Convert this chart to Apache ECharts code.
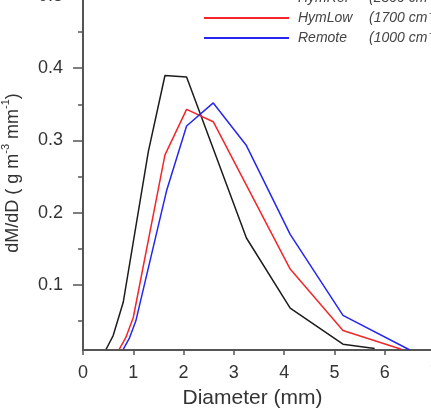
<!DOCTYPE html>
<html lang="en">
<head>
    <meta charset="UTF-8">
    <title>dM/dD size distribution</title>
    <script src="https://cdn.jsdelivr.net/npm/echarts@6.0.0/dist/echarts.min.js"></script>
    <style>
        html, body { margin: 0; padding: 0; background: #fff; }
    </style>
</head>
<body>
<div id="chart1" style="width: 431px;height:411px;"></div>

<script>
    // values (diameter in mm, dM/dD in g m-3 mm-1)
    var refD = [0.46, 0.6, 0.8, 1.3, 1.63, 2.06, 3.25, 4.12, 5.17, 5.8];
    var refV = [0.011, 0.03, 0.076, 0.285, 0.39, 0.388, 0.165, 0.068, 0.018, 0.012];

    var lowD = [0.72, 0.85, 1.0, 1.63, 2.06, 2.59, 4.12, 5.17, 6.33];
    var lowV = [0.011, 0.027, 0.055, 0.28, 0.343, 0.326, 0.122, 0.037, 0.011];

    var remD = [0.8, 0.92, 1.05, 1.66, 2.06, 2.59, 3.25, 4.12, 5.17, 6.5];
    var remV = [0.011, 0.026, 0.05, 0.23, 0.32, 0.352, 0.293, 0.17, 0.058, 0.01];

    var seriesNames = ['HymRef', 'HymLow', 'Remote'];
    var seriesConc = ['(2800 cm\u207B\u00B3)', '(1700 cm\u207B\u00B3)', '(1000 cm\u207B\u00B3)'];
    var seriesColors = ['#1c1c1c', '#f2262b', '#2626f0'];

    var yMajorTicks = [0.1, 0.2, 0.3, 0.4, 0.5];
    var yMinorTicks = [0.05, 0.15, 0.25, 0.35, 0.45];

    var font = '"Liberation Sans", Arial, sans-serif';
    var axisColor = '#555';

    function pairs(xs, ys) {
        return xs.map(function (x, i) { return [x, ys[i]]; });
    }

    var chartDom = document.getElementById('chart1');
    var myChart = echarts.init(chartDom, null, { renderer: 'canvas' });

    var allData = [pairs(refD, refV), pairs(lowD, lowV), pairs(remD, remV)];

    var option = {
        animation: false,
        backgroundColor: '#fff',
        grid: {
            left: 83,
            right: -4,
            top: -4,
            bottom: 61,
            containLabel: false,
            outerBoundsMode: 'none'
        },
        legend: {
            data: seriesNames,
            orient: 'vertical',
            left: 203,
            top: -9,
            padding: 0,
            itemWidth: 85,
            itemHeight: 14,
            itemGap: 6,
            itemStyle: { opacity: 0 },
            formatter: function (name) {
                var i = seriesNames.indexOf(name);
                return '{a|' + name + '}{b|' + seriesConc[i] + '}';
            },
            textStyle: {
                rich: {
                    a: { width: 71, fontSize: 14, fontStyle: 'italic', color: '#444', fontFamily: font, padding: [0, 0, 0, 4] },
                    b: { fontSize: 14, fontStyle: 'italic', color: '#444', fontFamily: font }
                }
            }
        },
        xAxis: {
            type: 'value',
            min: 0,
            max: 7,
            interval: 1,
            name: 'Diameter (mm)',
            nameLocation: 'middle',
            nameGap: 38,
            nameTextStyle: { fontSize: 21, color: '#333', fontFamily: font, padding: [0, 13, 0, 0] },
            axisLine: { show: true, onZero: false, lineStyle: { color: axisColor, width: 2 } },
            axisTick: { show: true, length: 5, lineStyle: { color: axisColor, width: 1.5 } },
            axisLabel: { fontSize: 18, color: '#333', fontFamily: font, margin: 14 },
            splitLine: { show: false }
        },
        yAxis: [{
            type: 'value',
            min: 0.01,
            max: 0.5,
            position: 'left',
            name: '{n|dM/dD ( g m}{s|-3}{n| mm}{s|-1}{n|)}',
            nameLocation: 'middle',
            nameRotate: 90,
            nameGap: 61,
            nameTextStyle: {
                rich: {
                    n: { fontSize: 18, color: '#333', fontFamily: font, lineHeight: 22, verticalAlign: 'bottom' },
                    s: { fontSize: 11, color: '#333', fontFamily: font, lineHeight: 22, verticalAlign: 'top' }
                }
            },
            axisLine: { show: true, lineStyle: { color: axisColor, width: 2 } },
            axisTick: { show: true, length: 10, customValues: yMajorTicks, lineStyle: { color: axisColor, width: 1.5 } },
            axisLabel: {
                customValues: yMajorTicks,
                formatter: function (v) { return v.toFixed(1); },
                fontSize: 18, color: '#333', fontFamily: font, margin: 20
            },
            splitLine: { show: false }
        }, {
            type: 'value',
            min: 0.01,
            max: 0.5,
            position: 'left',
            offset: 0,
            axisLine: { show: false },
            axisTick: { show: true, length: 5, customValues: yMinorTicks, lineStyle: { color: axisColor, width: 1.5 } },
            axisLabel: { show: false },
            splitLine: { show: false }
        }],
        series: seriesNames.map(function (name, i) {
            return {
                name: name,
                type: 'line',
                data: allData[i],
                symbol: 'none',
                color: seriesColors[i],
                lineStyle: { width: 1.5, color: seriesColors[i] }
            };
        })
    };
    myChart.setOption(option);
</script>
</body>
</html>
